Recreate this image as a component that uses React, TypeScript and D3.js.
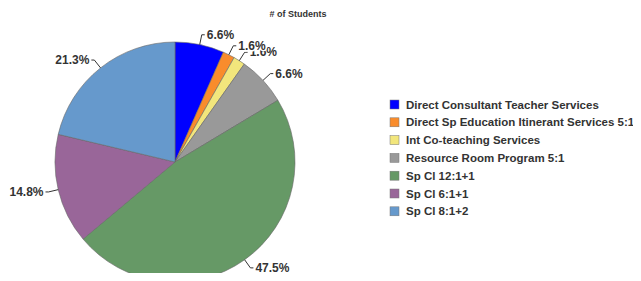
import React, { useRef, useEffect } from 'react';
import * as d3 from 'd3';

const categories = [
  'Direct Consultant Teacher Services',
  'Direct Sp Education Itinerant Services 5:1',
  'Int Co-teaching Services',
  'Resource Room Program 5:1',
  'Sp Cl 12:1+1',
  'Sp Cl 6:1+1',
  'Sp Cl 8:1+2',
];
const percents = [6.6, 1.6, 1.6, 6.6, 47.5, 14.8, 21.3];
const colors = ['#0000ff', '#f98c2c', '#f2e67c', '#999999', '#669966', '#996699', '#6699cc'];

const PieChart: React.FC = () => {
  const svgRef = useRef<SVGSVGElement | null>(null);

  useEffect(() => {
    if (!svgRef.current) return;
    const svg = d3.select(svgRef.current);
    svg.selectAll('*').remove();

    const cx = 175;
    const cy = 162;
    const r = 120;
    const font = 'Arial, "Liberation Sans", sans-serif';

    svg.append('text')
      .attr('x', 298)
      .attr('y', 17)
      .attr('text-anchor', 'middle')
      .attr('font-family', font)
      .attr('font-weight', 'bold')
      .attr('font-size', 9)
      .attr('fill', '#333')
      .text('# of Students');

    const pie = d3.pie<number>().sort(null).value(d => d);
    const arcs = pie(percents);
    const arc = d3.arc<d3.PieArcDatum<number>>().innerRadius(0).outerRadius(r);

    const g = svg.append('g').attr('transform', `translate(${cx},${cy})`);
    g.selectAll('path')
      .data(arcs)
      .join('path')
      .attr('d', arc)
      .attr('fill', (d, i) => colors[i])
      .attr('stroke', '#666')
      .attr('stroke-width', 0.6);

    // leader lines + labels (reverse order so earlier labels sit on top)
    const labels = g.append('g');
    arcs.slice().reverse().forEach(d => {
      const a = (d.startAngle + d.endAngle) / 2;
      const sx = Math.sin(a), sy = -Math.cos(a);
      const right = sx >= 0;
      const p0 = [r * sx, r * sy];
      const p1 = [(r + 10) * sx, (r + 10) * sy];
      const p2 = [p1[0] + (right ? 3 : -3), p1[1]];
      labels.append('path')
        .attr('d', `M${p0[0]},${p0[1]}L${p1[0]},${p1[1]}L${p2[0]},${p2[1]}`)
        .attr('fill', 'none')
        .attr('stroke', '#333')
        .attr('stroke-width', 1);
      labels.append('text')
        .attr('x', p2[0] + (right ? 2 : -2))
        .attr('y', p2[1])
        .attr('dy', '0.35em')
        .attr('text-anchor', right ? 'start' : 'end')
        .attr('font-family', font)
        .attr('font-weight', 'bold')
        .attr('font-size', 12)
        .attr('fill', '#333')
        .attr('stroke', '#fff')
        .attr('stroke-width', 3)
        .attr('paint-order', 'stroke')
        .text(`${d.data.toFixed(1)}%`);
    });

    const legend = svg.append('g').attr('transform', 'translate(390,100)');
    const rows = legend.selectAll('g')
      .data(categories)
      .join('g')
      .attr('transform', (d, i) => `translate(0,${i * 17.8})`);
    rows.append('rect')
      .attr('width', 9)
      .attr('height', 9)
      .attr('fill', (d, i) => colors[i])
      .attr('stroke', '#777')
      .attr('stroke-width', 0.5);
    rows.append('text')
      .attr('x', 16)
      .attr('y', 4.5)
      .attr('dy', '0.35em')
      .attr('font-family', font)
      .attr('font-weight', 'bold')
      .attr('font-size', 11.5)
      .attr('fill', '#333')
      .text(d => d);
  }, []);

  return <svg ref={svgRef} width={641} height={281} style={{ display: 'block' }}></svg>;
};

export default function App() {
  return (
    <div style={{ margin: -8 }}>
      <PieChart />
    </div>
  );
}
